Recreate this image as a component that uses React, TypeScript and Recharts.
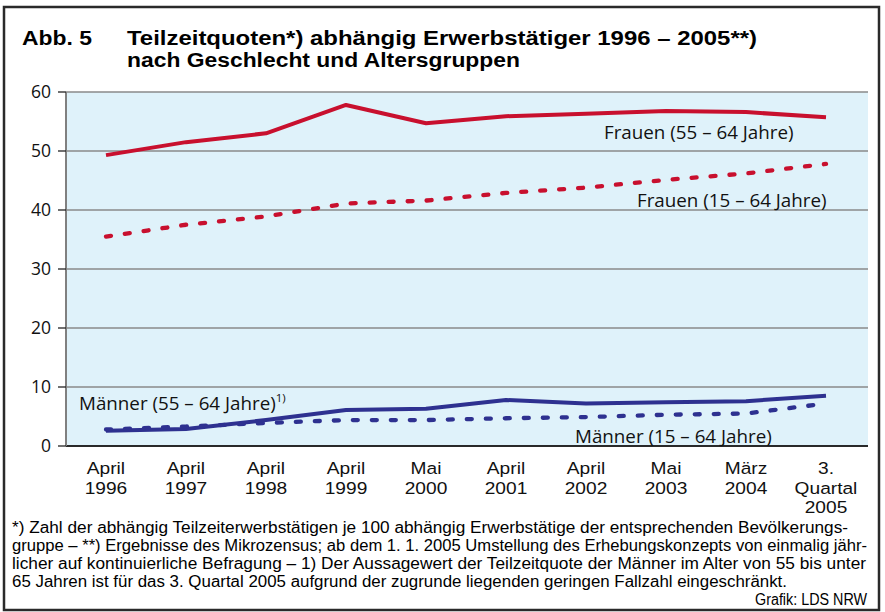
import React from 'react';
import { LineChart, Line, XAxis, YAxis, CartesianGrid, ReferenceDot } from 'recharts';

const categories = ['April\n1996', 'April\n1997', 'April\n1998', 'April\n1999', 'Mai\n2000', 'April\n2001', 'April\n2002', 'Mai\n2003', 'März\n2004', '3.\nQuartal\n2005'];
const frauen5564 = [49.3, 51.5, 53.0, 57.8, 54.7, 55.9, 56.3, 56.8, 56.6, 55.7];
const frauen1564 = [35.5, 37.5, 38.9, 41.1, 41.6, 42.9, 43.8, 45.1, 46.2, 47.8];
const maenner5564 = [2.6, 2.9, 4.4, 6.1, 6.3, 7.8, 7.2, 7.4, 7.6, 8.5];
const maenner1564 = [2.8, 3.3, 3.9, 4.4, 4.4, 4.7, 4.9, 5.3, 5.5, 7.2];
const yTicks = [0, 10, 20, 30, 40, 50, 60];

const titleNo = 'Abb. 5';
const titleLine1 = 'Teilzeitquoten*) abhängig Erwerbstätiger 1996 – 2005**)';
const titleLine2 = 'nach Geschlecht und Altersgruppen';
const footLines = [
  '*) Zahl der abhängig Teilzeiterwerbstätigen je 100 abhängig Erwerbstätige der entsprechenden Bevölkerungs-',
  'gruppe – **) Ergebnisse des Mikrozensus; ab dem 1. 1. 2005 Umstellung des Erhebungskonzepts von einmalig jähr-',
  'licher auf kontinuierliche Befragung – 1) Der Aussagewert der Teilzeitquote der Männer im Alter von 55 bis unter',
  '65 Jahren ist für das 3. Quartal 2005 aufgrund der zugrunde liegenden geringen Fallzahl eingeschränkt.',
];
const source = 'Grafik: LDS NRW';

const data = categories.map((c, i) => ({
  cat: c,
  f55: frauen5564[i],
  f15: frauen1564[i],
  m55: maenner5564[i],
  m15: maenner1564[i],
}));

const RED = '#c8102e';
const BLUE = '#2e3190';
const FONT = '"Open Sans", "Noto Sans", sans-serif';
const TIGHT = '"Liberation Sans", Arial, sans-serif';

const XTick = (props: any) => {
  const { x, y, payload } = props;
  const lines = String(payload.value).split('\n');
  return (
    <text
      x={x}
      y={y + 28}
      textAnchor="middle"
      fontSize={17.4}
      fontFamily={TIGHT}
      fill="#111"
      transform={`translate(${x},0) scale(1.1,1) translate(${-x},0)`}
    >
      {lines.map((l: string, i: number) => (
        <tspan key={i} x={x} dy={i === 0 ? 0 : 19.6}>
          {l}
        </tspan>
      ))}
    </text>
  );
};

const makeLabel = (text: string, dx: number, sup?: string) => (props: any) => {
  const vb = props.viewBox || {};
  const x = (vb.x ?? vb.cx ?? 0) + (vb.width ? vb.width / 2 : 0);
  const y = (vb.y ?? vb.cy ?? 0) + (vb.height ? vb.height / 2 : 0);
  return (
    <text x={x + dx} y={y} textAnchor="start" fontSize={18.8} fontFamily={FONT} fill="#111">
      {text}
      {sup ? (
        <tspan dy={-8} fontSize={11.5}>
          {sup}
        </tspan>
      ) : null}
    </text>
  );
};

export default function App() {
  return (
    <div style={{ position: 'absolute', left: 0, top: 0, width: 885, height: 612, background: '#fff', overflow: 'hidden' }}>
      <LineChart width={885} height={540} data={data} margin={{ top: 92, right: 17, left: 0, bottom: 0 }}>
        <CartesianGrid vertical={false} stroke="#8a8a8a" strokeWidth={1.3} fill="#dff2fa" horizontalValues={yTicks} />
        <XAxis
          dataKey="cat"
          interval={0}
          padding={{ left: 40, right: 42 }}
          tickLine={false}
          tickSize={0}
          tickMargin={0}
          axisLine={{ stroke: '#000', strokeWidth: 1.5 }}
          height={94}
          tick={<XTick />}
        />
        <YAxis
          domain={[0, 60]}
          ticks={yTicks}
          width={66}
          tickSize={8}
          tickMargin={7}
          axisLine={{ stroke: '#808080', strokeWidth: 2 }}
          tickLine={{ stroke: '#222', strokeWidth: 1.3 }}
          tick={{ fontSize: 17.5, fontFamily: FONT, fill: '#111' }}
        />
        <Line type="linear" dataKey="f55" stroke={RED} strokeWidth={4} dot={false} isAnimationActive={false} strokeLinejoin="round" />
        <Line type="linear" dataKey="f15" stroke={RED} strokeWidth={4.3} strokeDasharray="5 14" strokeLinecap="round" dot={false} isAnimationActive={false} />
        <Line type="linear" dataKey="m55" stroke={BLUE} strokeWidth={4} dot={false} isAnimationActive={false} strokeLinejoin="round" />
        <Line type="linear" dataKey="m15" stroke={BLUE} strokeWidth={4.3} strokeDasharray="5 14" strokeLinecap="round" dot={false} isAnimationActive={false} />
        <ReferenceDot x={categories[7]} y={52} r={0} stroke="none" fill="none" label={makeLabel('Frauen (55 – 64 Jahre)', -62)} />
        <ReferenceDot x={categories[7]} y={40.5} r={0} stroke="none" fill="none" label={makeLabel('Frauen (15 – 64 Jahre)', -29)} />
        <ReferenceDot x={categories[0]} y={6.1} r={0} stroke="none" fill="none" label={makeLabel('Männer (55 – 64 Jahre)', -27, '1)')} />
        <ReferenceDot x={categories[6]} y={0.5} r={0} stroke="none" fill="none" label={makeLabel('Männer (15 – 64 Jahre)', -11)} />
      </LineChart>
      <svg width={885} height={612} style={{ position: 'absolute', left: 0, top: 0, pointerEvents: 'none' }}>
        <rect x={4} y={7} width={875} height={603} fill="none" stroke="#2a2a2a" strokeWidth={2.5} />
        <text x={22} y={45} fontSize={19.4} fontWeight={700} fontFamily={TIGHT} fill="#000" textLength={70} lengthAdjust="spacingAndGlyphs">
          {titleNo}
        </text>
        <text x={127} y={45} fontSize={19.4} fontWeight={700} fontFamily={TIGHT} fill="#000" textLength={630} lengthAdjust="spacingAndGlyphs">
          {titleLine1}
        </text>
        <text x={127} y={67} fontSize={19.4} fontWeight={700} fontFamily={TIGHT} fill="#000" textLength={393} lengthAdjust="spacingAndGlyphs">
          {titleLine2}
        </text>
        {footLines.map((l, i) => (
          <text key={i} x={12} y={533 + i * 18} fontSize={15.6} fontFamily={TIGHT} fill="#000" textLength={[836, 855, 854, 775][i]} lengthAdjust="spacingAndGlyphs">
            {l}
          </text>
        ))}
        <text x={867} y={604.5} textAnchor="end" fontSize={15.6} fontFamily={TIGHT} fill="#000" textLength={112} lengthAdjust="spacingAndGlyphs">
          {source}
        </text>
      </svg>
    </div>
  );
}
